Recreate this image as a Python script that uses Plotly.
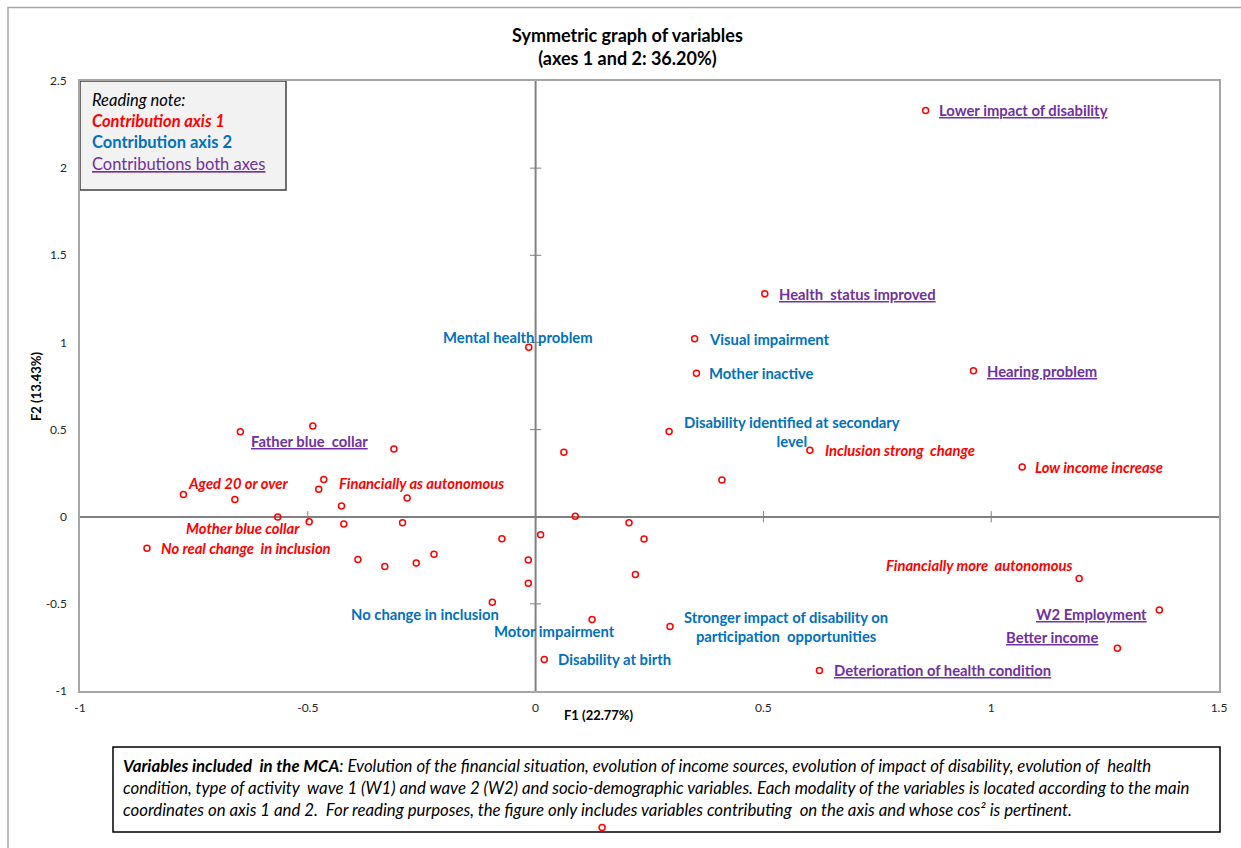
import plotly.graph_objects as go

# ---------------- data ----------------
# Labelled modalities (coordinates on F1, F2) and their contribution group
lab_names = [
    "Lower impact of disability", "Health  status improved", "Hearing problem",
    "Father blue  collar", "W2 Employment", "Better income",
    "Deterioration of health condition",
    "Aged 20 or over", "Financially as autonomous", "Mother blue collar",
    "No real change  in inclusion", "Inclusion strong  change", "Low income increase",
    "Financially more  autonomous",
    "Mental health problem", "Visual impairment", "Mother inactive",
    "Disability identified at secondary<br>level", "No change in inclusion",
    "Motor impairment", "Disability at birth",
    "Stronger impact of disability on<br>participation  opportunities",
]
lab_f1 = [0.856, 0.503, 0.961, -0.648, 1.369, 1.277, 0.623,
          -0.773, -0.465, -0.566, -0.853, 0.602, 1.068, 1.193,
          -0.015, 0.349, 0.353, 0.293, -0.095, 0.124, 0.019, 0.295]
lab_f2 = [2.331, 1.279, 0.838, 0.487, -0.535, -0.754, -0.882,
          0.128, 0.214, -0.002, -0.181, 0.382, 0.285, -0.355,
          0.972, 1.021, 0.823, 0.489, -0.491, -0.590, -0.819, -0.630]
lab_group = ["both"] * 7 + ["axis1"] * 7 + ["axis2"] * 8

# Other modalities shown without label
oth_f1 = [-0.489, -0.311, -0.476, -0.660, -0.282, -0.426, -0.497, -0.421,
          -0.292, -0.390, -0.331, -0.262, -0.223, -0.074, -0.016, -0.016,
          0.011, 0.062, 0.087, 0.205, 0.238, 0.219, 0.409]
oth_f2 = [0.521, 0.388, 0.158, 0.099, 0.107, 0.061, -0.029, -0.042,
          -0.034, -0.246, -0.286, -0.265, -0.216, -0.126, -0.248, -0.382,
          -0.103, 0.370, 0.002, -0.034, -0.128, -0.332, 0.210]
# one modality lies below the displayed F2 range (drawn over the note box)
out_f1 = [0.146]
out_f2 = [-1.783]

x_range = [-1, 1.5]
y_range = [-1, 2.5]
x_ticks = [-1, -0.5, 0, 0.5, 1, 1.5]
x_ticklabels = ["-1", "-0.5", "0", "0.5", "1", "1.5"]
y_ticks = [-1, -0.5, 0, 0.5, 1, 1.5, 2, 2.5]
y_ticklabels = ["-1", "-0.5", "0", "0.5", "1", "1.5", "2", "2.5"]

title_text = "<b>Symmetric graph of variables<br>(axes 1 and 2: 36.20%)</b>"
x_title = "F1 (22.77%)"
y_title = "F2 (13.43%)"
note_lines = ["Reading note:", "Contribution axis 1", "Contribution axis 2", "Contributions both axes"]
mca_lines = [
    "<b>Variables included  in the MCA</b>: Evolution of the financial situation, evolution of income sources, evolution of impact of disability, evolution of  health",
    "condition, type of activity  wave 1 (W1) and wave 2 (W2) and socio-demographic variables. Each modality of the variables is located according to the main",
    "coordinates on axis 1 and 2.  For reading purposes, the figure only includes variables contributing  on the axis and whose cos² is pertinent.",
]

# ---------------- layout geometry ----------------
W, H = 1241, 848
ML, MR, MT = 80, 22, 81
PLOT_BOTTOM = 691           # pixel row of the bottom of the main plot area
AREA_H = H - MT             # full plotting height (margin b = 0)
AREA_W = W - ML - MR
y_dom0 = (H - PLOT_BOTTOM) / AREA_H


def PX(px):
    return (px - ML) / AREA_W


def PY(py):
    return (H - py) / AREA_H


# secondary (hidden) y axis spanning the full height with identical scale
units_per_px = (y_range[1] - y_range[0]) / (PLOT_BOTTOM - MT)
y2_range = [y_range[1] - AREA_H * units_per_px, y_range[1]]

# ---------------- styles ----------------
FONT = "Lato"
RED = "#FF0000"
BLUE = "#0070C0"
PURPLE = "#7030A0"
AXIS_GREY = "#808080"
LABEL_SIZE = 14.8
group_style = {
    "both": dict(color=PURPLE, fmt="<b><u>{}</u></b>"),
    "axis1": dict(color=RED, fmt="<b><i>{}</i></b>"),
    "axis2": dict(color=BLUE, fmt="<b>{}</b>"),
}
# label placement relative to each point: (xanchor, xshift px, yshift px)
lab_place = [
    ("left", 11, 0), ("left", 12, 0), ("left", 12, 0),
    ("left", 9, -9), ("right", -10, -4), ("right", -16, 11), ("left", 13, 0),
    ("left", 3, 11), ("left", 13, -4), ("right", 24, -11),
    ("left", 12, 0), ("left", 13, 0), ("left", 11, 0), ("right", -4, 14),
    ("center", -11, 10), ("left", 12, 0), ("left", 11, 0),
    ("left", 13, 0), ("right", 9, -12), ("center", -38, -11), ("left", 12, 0),
    ("left", 12, 0),
]

fig = go.Figure()

# tick crosses on the zero axes
fig.add_trace(go.Scatter(
    x=[t for t in x_ticks if t != 0 and x_range[0] < t < x_range[1]], y=[0] * 3, mode="markers",
    marker=dict(symbol="line-ns", size=8, line=dict(color=AXIS_GREY, width=1)),
    hoverinfo="skip", showlegend=False))
fig.add_trace(go.Scatter(
    x=[0] * 5, y=[t for t in y_ticks if t != 0 and y_range[0] < t < y_range[1]], mode="markers",
    marker=dict(symbol="line-ew", size=8, line=dict(color=AXIS_GREY, width=1)),
    hoverinfo="skip", showlegend=False))

marker_style = dict(symbol="circle-open", size=6, color=RED, line=dict(color=RED, width=1.5))
fig.add_trace(go.Scatter(x=oth_f1, y=oth_f2, mode="markers", marker=marker_style,
                         showlegend=False, hoverinfo="x+y"))
fig.add_trace(go.Scatter(x=lab_f1, y=lab_f2, mode="markers", marker=marker_style,
                         text=[n.replace("<br>", " ") for n in lab_names],
                         showlegend=False, hoverinfo="text"))
fig.add_trace(go.Scatter(x=out_f1, y=out_f2, xaxis="x", yaxis="y2", mode="markers",
                         marker=marker_style, showlegend=False, hoverinfo="x+y"))

annotations = []
for name, fx, fy, g, (xa, xs, ys) in zip(lab_names, lab_f1, lab_f2, lab_group, lab_place):
    st = group_style[g]
    annotations.append(dict(
        x=fx, y=fy, xref="x", yref="y", text=st["fmt"].format(name),
        showarrow=False, xanchor=xa, yanchor="middle", xshift=xs, yshift=ys,
        align="center", font=dict(family=FONT, size=LABEL_SIZE, color=st["color"])))

# title and axis titles
annotations.append(dict(x=PX(627), y=PY(46), xref="paper", yref="paper", text=title_text,
                        showarrow=False, xanchor="center", yanchor="middle",
                        font=dict(family=FONT, size=18, color="black")))
annotations.append(dict(x=PX(599), y=PY(715), xref="paper", yref="paper", text="<b>" + x_title + "</b>",
                        showarrow=False, xanchor="center", yanchor="middle",
                        font=dict(family=FONT, size=13, color="black")))
annotations.append(dict(x=PX(36), y=PY(386), xref="paper", yref="paper", text="<b>" + y_title + "</b>",
                        showarrow=False, xanchor="center", yanchor="middle", textangle=-90,
                        font=dict(family=FONT, size=13, color="black")))

# reading note box
note_fmt = ["<i>{}</i>", "<b><i>{}</i></b>", "<b>{}</b>", "<u>{}</u>"]
note_col = ["black", RED, BLUE, PURPLE]
note_py = [100, 121, 142, 164]
for t, f, c, py in zip(note_lines, note_fmt, note_col, note_py):
    annotations.append(dict(x=PX(90), y=PY(py), xref="paper", yref="paper", text=f.format(t),
                            showarrow=False, xanchor="left", yanchor="middle",
                            font=dict(family=FONT, size=16.5, color=c)))

# MCA note
mca_py = [765, 787, 809]
for t, py in zip(mca_lines, mca_py):
    annotations.append(dict(x=PX(121), y=PY(py), xref="paper", yref="paper", text="<i>" + t + "</i>",
                            showarrow=False, xanchor="left", yanchor="middle",
                            font=dict(family=FONT, size=16.8, color="black")))

shapes = [
    # outer chart frame
    dict(type="rect", xref="paper", yref="paper", x0=PX(8), x1=PX(1260), y0=PY(870), y1=PY(7.5),
         line=dict(color="#A6A6A6", width=1.5), fillcolor="rgba(0,0,0,0)", layer="below"),
    # reading-note box
    dict(type="rect", xref="paper", yref="paper", x0=PX(80), x1=PX(286), y0=PY(190), y1=PY(81),
         line=dict(color="#404040", width=1.5), fillcolor="#F2F2F2", layer="below"),
    # MCA note box
    dict(type="rect", xref="paper", yref="paper", x0=PX(113), x1=PX(1220), y0=PY(832), y1=PY(747),
         line=dict(color="black", width=1.5), fillcolor="rgba(0,0,0,0)", layer="below"),
    # vertical F1 = 0 axis, limited to the main plot area
    dict(type="line", xref="x", yref="y domain", x0=0, x1=0, y0=0, y1=1,
         line=dict(color=AXIS_GREY, width=2), layer="below"),
]

axis_common = dict(showgrid=False,
                   showline=True, linecolor="#A6A6A6", linewidth=1.5, mirror=True,
                   tickfont=dict(family=FONT, size=12, color="#262626"),
                   ticks="outside", tickcolor="rgba(0,0,0,0)", automargin=False)

fig.update_layout(
    width=W, height=H,
    margin=dict(l=ML, r=MR, t=MT, b=0, autoexpand=False),
    paper_bgcolor="white", plot_bgcolor="rgba(0,0,0,0)",
    showlegend=False,
    xaxis=dict(range=x_range, tickvals=x_ticks, ticktext=x_ticklabels, ticklen=5,
               anchor="y", domain=[0, 1], zeroline=False, **axis_common),
    yaxis=dict(range=y_range, tickvals=y_ticks, ticktext=y_ticklabels, ticklen=9,
               domain=[y_dom0, 1], anchor="x", zeroline=True, zerolinecolor=AXIS_GREY,
               zerolinewidth=2, **axis_common),
    yaxis2=dict(range=y2_range, domain=[0, 1], anchor="free", position=0, visible=False,
                showgrid=False, zeroline=False, automargin=False),
    annotations=annotations,
    shapes=shapes,
    font=dict(family=FONT),
)

fig.write_html("out.html")
